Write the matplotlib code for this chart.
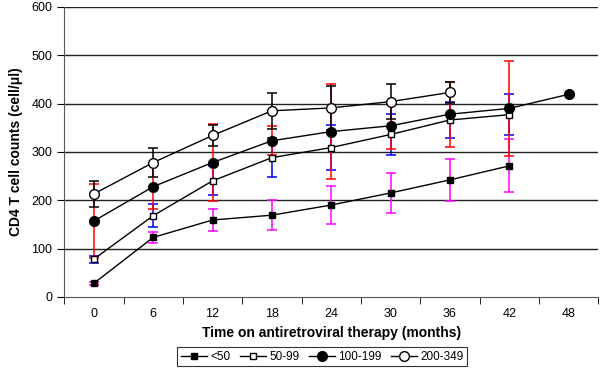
import numpy as np
import matplotlib
matplotlib.use("Agg")
import matplotlib.pyplot as plt

plt.rcParams['font.family'] = ['Liberation Sans', 'DejaVu Sans']

months = ['0', '6', '12', '18', '24', '30', '36', '42', '48']

# CD4 means and error bar half-widths per baseline group
lt50 = [28, 123, 159, 169, 190, 215, 242, 271]
lt50_err = [3, 12, 23, 31, 39, 42, 43, 55]
g50_99 = [78, 168, 240, 288, 309, 336, 366, 377]
g50_99_err = [7, 24, 30, 40, 47, 42, 38, 42]
g100_199 = [157, 228, 278, 323, 342, 354, 378, 390, 419]
g100_199_err = [77, 46, 80, 30, 98, 47, 67, 98]
g200_349 = [213, 278, 334, 385, 391, 404, 423]
g200_349_err = [27, 30, 22, 37, 46, 36, 21]

series = [
    ('<50', lt50, lt50_err, 's', 'black', '#ff00ff', 5),
    ('50-99', g50_99, g50_99_err, 's', 'white', '#0000ff', 5),
    ('100-199', g100_199, g100_199_err, 'o', 'black', '#ff0000', 7),
    ('200-349', g200_349, g200_349_err, 'o', 'white', '#000000', 7),
]

fig = plt.figure(figsize=(6, 3.85), dpi=100)
ax = fig.add_axes([0.107, 0.229, 0.89, 0.753])

for y in range(100, 601, 100):
    ax.axhline(y, color='#222222', lw=1, zorder=1)

# error bars first
for name, vals, err, mk, fc, ec, ms in series:
    x = np.arange(len(err))
    ax.errorbar(x, vals[:len(err)], yerr=err, fmt='none', ecolor=ec,
                elinewidth=1.1, capsize=3.5, capthick=1.1, zorder=2)

handles = []
for name, vals, err, mk, fc, ec, ms in series:
    x = np.arange(len(vals))
    h, = ax.plot(x, vals, color='black', lw=1, marker=mk, markersize=ms,
                 markerfacecolor=fc, markeredgecolor='black', markeredgewidth=1,
                 label=name, zorder=3)
    handles.append(h)

ax.set_xlim(-0.5, len(months) - 0.5)
ax.set_ylim(0, 600)
ax.set_xticks(np.arange(len(months)))
ax.set_xticklabels(months)
ax.set_xticks(np.arange(-0.5, len(months)), minor=True)
ax.tick_params(axis='x', which='major', length=0, labelsize=9, pad=8)
ax.tick_params(axis='x', which='minor', length=5, direction='out')
ax.set_yticks(range(0, 601, 100))
ax.tick_params(axis='y', length=5, direction='out', labelsize=9)

for s in ['top', 'right']:
    ax.spines[s].set_visible(False)
ax.spines['left'].set_color('#555555')
ax.spines['bottom'].set_color('#555555')

ax.set_xlabel('Time on antiretroviral therapy (months)', fontsize=10,
              fontweight='bold', labelpad=4)
ax.set_ylabel('CD4 T cell counts (cell/\u03bcl)', fontsize=10,
              fontweight='bold', labelpad=6)

leg = fig.legend(handles=handles, loc='center', bbox_to_anchor=(0.537, 0.073),
                 ncol=4, fontsize=8.5, frameon=True, fancybox=False,
                 edgecolor='black', handlelength=2.2, handletextpad=0.3,
                 columnspacing=0.8, borderpad=0.3)
leg.get_frame().set_linewidth(0.8)

fig.savefig('out.png', dpi=100)
